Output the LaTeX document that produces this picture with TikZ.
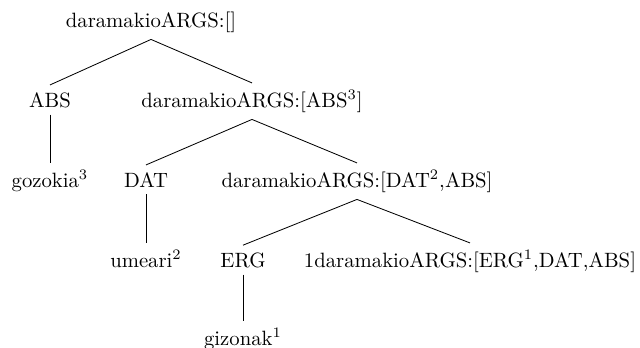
\documentclass[tikz,border=0pt]{standalone}
\begin{document}
\begin{tikzpicture}[x=0.483pt,y=-0.483pt,
  lbl/.style={anchor=base,inner sep=3.3pt},
  edge/.style={line width=0.4pt}]
\useasboundingbox (0,0) rectangle (640,347);
\node[lbl] (root) at (151,27) {daramakioARGS:[]};
\node[lbl] (abs) at (50,107) {ABS};
\node[lbl] (a2) at (252,107) {daramakioARGS:[ABS$^3$]};
\node[lbl] (goz) at (50,187) {gozokia$^3$};
\node[lbl] (dat) at (146,187) {DAT};
\node[lbl] (a3) at (357,187) {daramakioARGS:[DAT$^2$,ABS]};
\node[lbl] (ume) at (146,267) {umeari$^2$};
\node[lbl] (erg) at (243,267) {ERG};
\node[lbl] (a4) at (470,267) {1daramakioARGS:[ERG$^1$,DAT,ABS]};
\node[lbl] (giz) at (243,345) {gizonak$^1$};
\draw[edge] (root.south) -- (abs.north);
\draw[edge] (root.south) -- (a2.north);
\draw[edge] (abs.south) -- (goz.north);
\draw[edge] (a2.south) -- (dat.north);
\draw[edge] (a2.south) -- (a3.north);
\draw[edge] (dat.south) -- (ume.north);
\draw[edge] (a3.south) -- (erg.north);
\draw[edge] (a3.south) -- (a4.north);
\draw[edge] (erg.south) -- (giz.north);
\end{tikzpicture}
\end{document}
